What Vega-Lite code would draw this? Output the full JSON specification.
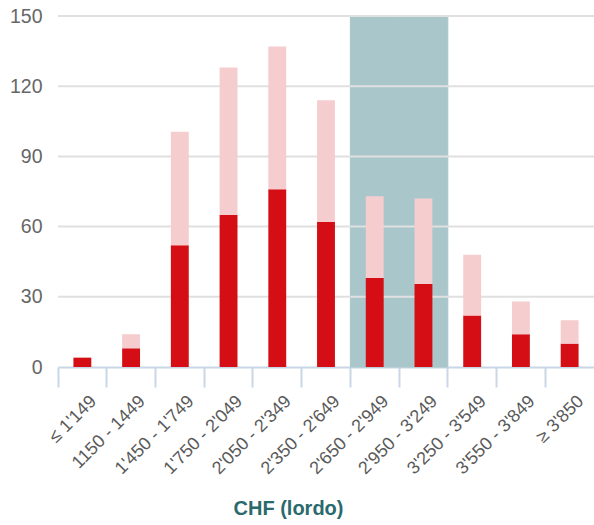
{
  "$schema": "https://vega.github.io/schema/vega-lite/v6.json",
  "autosize": {"type": "none"},
  "width": 536,
  "height": 351,
  "padding": {"left": 58, "top": 16, "right": 0, "bottom": 158},
  "background": "white",
  "config": {
    "view": {"stroke": null},
    "font": "Liberation Sans",
    "axisX": {
      "bandPosition": 0,
      "tickSize": 20, "tickColor": "#c8d6e5", "tickWidth": 2,
      "domainColor": "#c8d6e5", "domainWidth": 2,
      "labelAngle": -45, "labelAlign": "right", "labelBaseline": "top",
      "labelOffset": 5, "labelPadding": 5,
      "labelFontSize": 18, "labelColor": "#5a5a5a",
      "titleFontSize": 20, "titleFontWeight": "bold", "titleColor": "#2a6a6d",
      "titleX": 230, "titleY": 147, "titleAlign": "center", "titleBaseline": "alphabetic",
      "grid": false
    },
    "axisY": {
      "domain": false, "ticks": false, "grid": false,
      "labelPadding": 16, "labelFontSize": 19.5, "labelColor": "#666666"
    }
  },
  "datasets": {
    "bars": [
      {"cat": "≤ 1'149", "series": "a", "o": 1, "value": 4},
      {"cat": "≤ 1'149", "series": "b", "o": 2, "value": 0},
      {"cat": "1150 - 1449", "series": "a", "o": 1, "value": 8},
      {"cat": "1150 - 1449", "series": "b", "o": 2, "value": 6},
      {"cat": "1'450 - 1'749", "series": "a", "o": 1, "value": 52},
      {"cat": "1'450 - 1'749", "series": "b", "o": 2, "value": 48.5},
      {"cat": "1'750 - 2'049", "series": "a", "o": 1, "value": 65},
      {"cat": "1'750 - 2'049", "series": "b", "o": 2, "value": 63},
      {"cat": "2'050 - 2'349", "series": "a", "o": 1, "value": 76},
      {"cat": "2'050 - 2'349", "series": "b", "o": 2, "value": 61},
      {"cat": "2'350 - 2'649", "series": "a", "o": 1, "value": 62},
      {"cat": "2'350 - 2'649", "series": "b", "o": 2, "value": 52},
      {"cat": "2'650 - 2'949", "series": "a", "o": 1, "value": 38},
      {"cat": "2'650 - 2'949", "series": "b", "o": 2, "value": 35},
      {"cat": "2'950 - 3'249", "series": "a", "o": 1, "value": 35.5},
      {"cat": "2'950 - 3'249", "series": "b", "o": 2, "value": 36.5},
      {"cat": "3'250 - 3'549", "series": "a", "o": 1, "value": 22},
      {"cat": "3'250 - 3'549", "series": "b", "o": 2, "value": 26},
      {"cat": "3'550 - 3'849", "series": "a", "o": 1, "value": 14},
      {"cat": "3'550 - 3'849", "series": "b", "o": 2, "value": 14},
      {"cat": "≥ 3'850", "series": "a", "o": 1, "value": 10},
      {"cat": "≥ 3'850", "series": "b", "o": 2, "value": 10}
    ],
    "shade": [
      {"cat": "2'650 - 2'949", "top": 150},
      {"cat": "2'950 - 3'249", "top": 150}
    ],
    "grid": [
      {"g": 30}, {"g": 60}, {"g": 90}, {"g": 120}, {"g": 150}
    ]
  },
  "layer": [
    {
      "data": {"name": "shade"},
      "mark": {"type": "bar", "color": "#a9c6ca", "stroke": "#a9c6ca", "strokeWidth": 1, "width": {"band": 1}},
      "encoding": {
        "x": {"field": "cat", "type": "nominal", "title": "CHF (lordo)",
          "scale": {"domain": ["≤ 1'149", "1150 - 1449", "1'450 - 1'749", "1'750 - 2'049", "2'050 - 2'349", "2'350 - 2'649", "2'650 - 2'949", "2'950 - 3'249", "3'250 - 3'549", "3'550 - 3'849", "≥ 3'850"], "paddingInner": 0, "paddingOuter": 0}
        },
        "y": {"field": "top", "type": "quantitative", "title": null, "scale": {"domain": [0, 150], "nice": false},
          "axis": {"values": [0, 30, 60, 90, 120, 150]}}
      }
    },
    {
      "data": {"name": "grid"},
      "mark": {"type": "rule", "color": "#e0e0e0", "strokeWidth": 2},
      "encoding": {
        "y": {"field": "g", "type": "quantitative", "title": null, "axis": {"values": [0, 30, 60, 90, 120, 150]}}
      }
    },
    {
      "data": {"name": "bars"},
      "mark": {"type": "bar", "width": {"band": 0.367}},
      "encoding": {
        "x": {"field": "cat", "type": "nominal", "title": "CHF (lordo)"},
        "y": {"field": "value", "type": "quantitative", "stack": "zero", "title": null, "axis": {"values": [0, 30, 60, 90, 120, 150]}},
        "color": {"field": "series", "type": "nominal", "scale": {"domain": ["a", "b"], "range": ["#d40e14", "#f5cdcf"]}, "legend": null},
        "order": {"field": "o", "type": "quantitative"}
      }
    }
  ]
}
